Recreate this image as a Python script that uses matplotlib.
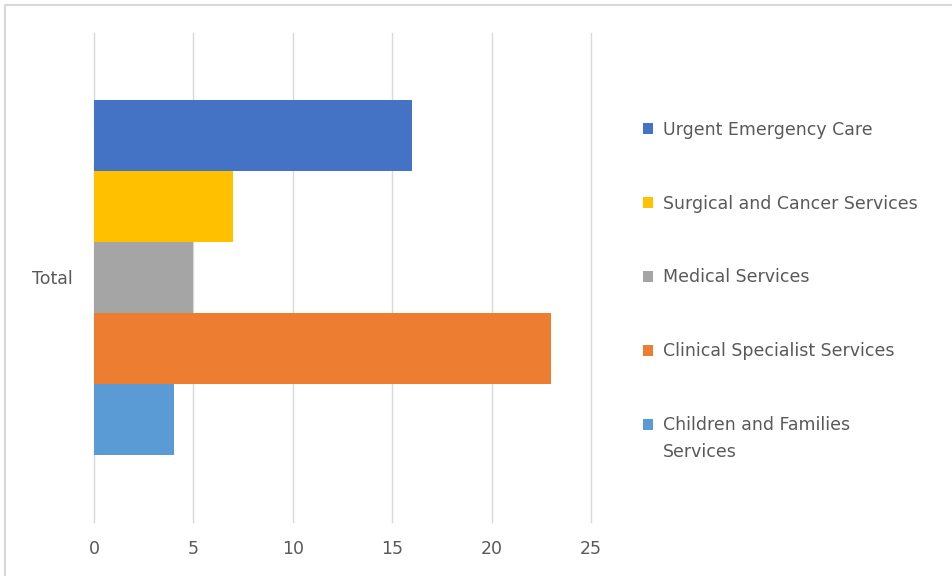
import matplotlib.pyplot as plt
from matplotlib.patches import Rectangle

series = ["Urgent Emergency Care", "Surgical and Cancer Services", "Medical Services",
          "Clinical Specialist Services", "Children and Families\nServices"]
values = [16, 7, 5, 23, 4]
colors = ["#4472c4", "#ffc000", "#a5a5a5", "#ed7d31", "#5b9bd5"]
category = "Total"
xticks = [0, 5, 10, 15, 20, 25]

plt.rcParams["font.family"] = ["DejaVu Sans"]

fig = plt.figure(figsize=(9.53, 5.76), dpi=100)
ax = fig.add_axes([94 / 953, 1 - 522 / 576, (591 - 94) / 953, (522 - 33) / 576])

h = 0.1452
n = len(values)
for i, (lab, v, c) in enumerate(zip(series, values, colors)):
    ax.barh((n // 2 - i) * h, v, height=h, color=c, label=lab, zorder=2)

ax.set_xlim(0, 25)
ax.set_ylim(-0.5, 0.5)
ax.set_xticks(xticks)
ax.set_yticks([0])
ax.set_yticklabels([category])
ax.grid(axis="x", color="#d9d9d9", linewidth=1, zorder=0)
for gl in ax.get_xgridlines():
    gl.set_clip_on(False)
for s in ax.spines.values():
    s.set_visible(False)
ax.tick_params(length=0, labelsize=12.5, colors="#595959")
ax.tick_params(axis="x", pad=13)
ax.tick_params(axis="y", pad=15)

leg = ax.legend(loc="upper left", bbox_to_anchor=(634 / 953, 1 - 112 / 576),
                bbox_transform=fig.transFigure, frameon=False, fontsize=12.5,
                labelspacing=3.22, handlelength=0.6, handleheight=0.6,
                handletextpad=0.58, borderpad=0)
for t in leg.get_texts():
    t.set_color("#595959")
    t.set_linespacing(1.6)
last = leg.legend_handles[-1]
last.set_y(last.get_y() + 11)

fig.patches.append(Rectangle((5 / 953, -0.01), 1.0, 1 - 5 / 576 + 0.01,
                             transform=fig.transFigure, fill=False,
                             edgecolor="#d9d9d9", linewidth=1.5))

fig.savefig("out.png", dpi=100)
